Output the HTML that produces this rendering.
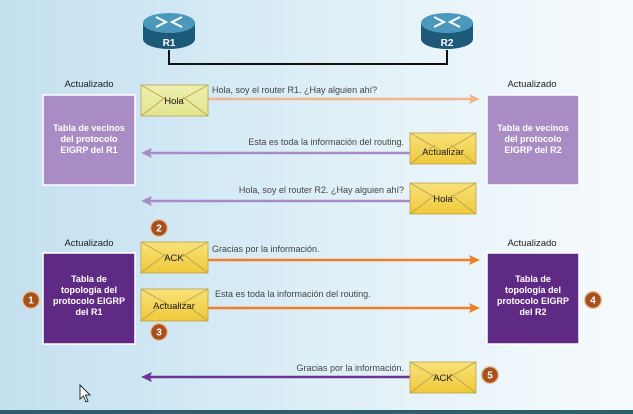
<!DOCTYPE html>
<html><head><meta charset="utf-8"><style>
html,body{margin:0;padding:0;width:633px;height:414px;overflow:hidden}
body{background:linear-gradient(90deg,#c4e0ef 0%,#d2e9f4 30%,#e6f3f9 65%,#f7fbfd 100%);font-family:"Liberation Sans",sans-serif}
</style></head><body>
<svg width="633" height="414" viewBox="0 0 633 414" xmlns="http://www.w3.org/2000/svg" font-family="Liberation Sans, sans-serif">
<defs>
<linearGradient id="env" x1="0" y1="0" x2="0" y2="1"><stop offset="0" stop-color="#f7e27a"/><stop offset="1" stop-color="#f0c93a"/></linearGradient>
<linearGradient id="envl" x1="0" y1="0" x2="0" y2="1"><stop offset="0" stop-color="#eef0b0"/><stop offset="1" stop-color="#e2e490"/></linearGradient>
<g id="router">
<path d="M0 12 L0 28 A26 10 0 0 0 52 28 L52 12 Z" fill="#1d5a7a"/>
<ellipse cx="26" cy="12" rx="26" ry="10" fill="#4a98bb"/>
<path d="M13 6 L23 11 L13 16 M39 6 L29 11 L39 16" stroke="#fff" stroke-width="2" fill="none"/>
</g>
</defs>
<use href="#router" x="143" y="11"/>
<text x="169" y="46" font-size="10" font-weight="bold" fill="#fff" text-anchor="middle">R1</text>
<use href="#router" x="421" y="11"/>
<text x="447" y="46" font-size="10" font-weight="bold" fill="#fff" text-anchor="middle">R2</text>
<path d="M169 50 V64 H447 V50" stroke="#111" stroke-width="2" fill="none"/>

<g font-size="9.5" fill="#222" text-anchor="middle">
<text x="89" y="87">Actualizado</text><text x="532" y="87">Actualizado</text>
<text x="89" y="246">Actualizado</text><text x="532" y="246">Actualizado</text>
</g>
<rect x="43" y="95" width="92" height="90" fill="#a98cc4" stroke="#fff" stroke-width="1.5"/>
<rect x="487" y="95" width="92" height="90" fill="#a98cc4" stroke="#fff" stroke-width="1.5"/>
<g font-size="9" font-weight="bold" fill="#fff" text-anchor="middle">
<text x="89" y="131">Tabla de vecinos</text><text x="89" y="142">del protocolo</text><text x="89" y="153">EIGRP del R1</text>
<text x="533" y="131">Tabla de vecinos</text><text x="533" y="142">del protocolo</text><text x="533" y="153">EIGRP del R2</text>
</g>
<rect x="43" y="253" width="92" height="91" fill="#5e2a84" stroke="#fff" stroke-width="1.5"/>
<rect x="487" y="253" width="92" height="91" fill="#5e2a84" stroke="#fff" stroke-width="1.5"/>
<g font-size="9" font-weight="bold" fill="#fff" text-anchor="middle">
<text x="89" y="282">Tabla de</text><text x="89" y="293">topología del</text><text x="89" y="304">protocolo EIGRP</text><text x="89" y="315">del R1</text>
<text x="533" y="282">Tabla de</text><text x="533" y="293">topología del</text><text x="533" y="304">protocolo EIGRP</text><text x="533" y="315">del R2</text>
</g>

<g stroke-width="2.5" fill="none">
<line x1="208" y1="99" x2="472" y2="99" stroke="#f2b48a"/>
<line x1="148" y1="153" x2="410" y2="153" stroke="#a78bc9"/>
<line x1="148" y1="201" x2="410" y2="201" stroke="#a78bc9"/>
<line x1="208" y1="260" x2="472" y2="260" stroke="#ee7d2c"/>
<line x1="208" y1="308" x2="472" y2="308" stroke="#ee7d2c"/>
<line x1="148" y1="377" x2="410" y2="377" stroke="#6a3594"/>
</g>
<path d="M480 99 L469 94 L471 99 L469 104Z" fill="#f2b48a"/>
<path d="M480 260 L469 255 L471 260 L469 265Z" fill="#ee7d2c"/>
<path d="M480 308 L469 303 L471 308 L469 313Z" fill="#ee7d2c"/>
<path d="M141 153 L152 148 L150 153 L152 158Z" fill="#a78bc9"/>
<path d="M141 201 L152 196 L150 201 L152 206Z" fill="#a78bc9"/>
<path d="M141 377 L152 372 L150 377 L152 382Z" fill="#6a3594"/>

<g font-size="9" fill="#444">
<text x="212" y="93">Hola, soy el router R1. ¿Hay alguien ahí?</text>
<text x="404" y="145" text-anchor="end">Esta es toda la información del routing.</text>
<text x="404" y="193" text-anchor="end">Hola, soy el router R2. ¿Hay alguien ahí?</text>
<text x="212" y="252">Gracias por la información.</text>
<text x="215" y="297">Esta es toda la información del routing.</text>
<text x="404" y="371" text-anchor="end">Gracias por la información.</text>
</g>

<g stroke="#b9a24a" stroke-width="0.8">
<rect x="141" y="85" width="67" height="31" fill="url(#envl)"/>
<path d="M141 116 L166 97 M208 116 L183 97 M141 85 L174 104 L208 85" fill="none"/>
<rect x="410" y="133" width="66" height="31" fill="url(#env)"/>
<path d="M410 164 L435 145 M476 164 L451 145 M410 133 L443 152 L476 133" fill="none"/>
<rect x="410" y="183" width="66" height="31" fill="url(#env)"/>
<path d="M410 214 L435 195 M476 214 L451 195 M410 183 L443 202 L476 183" fill="none"/>
<rect x="141" y="242" width="67" height="31" fill="url(#env)"/>
<path d="M141 273 L166 254 M208 273 L183 254 M141 242 L174 261 L208 242" fill="none"/>
<rect x="141" y="289" width="67" height="32" fill="url(#env)"/>
<path d="M141 321 L166 302 M208 321 L183 302 M141 289 L174 308 L208 289" fill="none"/>
<rect x="410" y="362" width="66" height="31" fill="url(#env)"/>
<path d="M410 393 L435 374 M476 393 L451 374 M410 362 L443 381 L476 362" fill="none"/>
</g>
<g font-size="9.5" fill="#222" text-anchor="middle">
<text x="174" y="104">Hola</text>
<text x="443" y="155">Actualizar</text>
<text x="443" y="202">Hola</text>
<text x="174" y="261">ACK</text>
<text x="174" y="309">Actualizar</text>
<text x="443" y="381">ACK</text>
</g>

<g fill="#a9501f" stroke="#e9c9a8" stroke-width="1.5">
<circle cx="31" cy="300" r="8.5"/><circle cx="159" cy="228" r="8.5"/><circle cx="159" cy="332" r="8.5"/>
<circle cx="593" cy="300" r="8.5"/><circle cx="490" cy="375" r="8.5"/>
</g>
<g font-size="10" font-weight="bold" fill="#fff" text-anchor="middle">
<text x="31" y="303.5">1</text><text x="159" y="231.5">2</text><text x="159" y="335.5">3</text>
<text x="593" y="303.5">4</text><text x="490" y="378.5">5</text>
</g>

<path d="M80 385 L80 399 L83.5 396 L86 402 L88 401 L85.5 395 L90 395 Z" fill="#fff" stroke="#000" stroke-width="0.8"/>
<rect x="0" y="410" width="633" height="4" fill="#2f5f6f"/>
</svg>
</body></html>
